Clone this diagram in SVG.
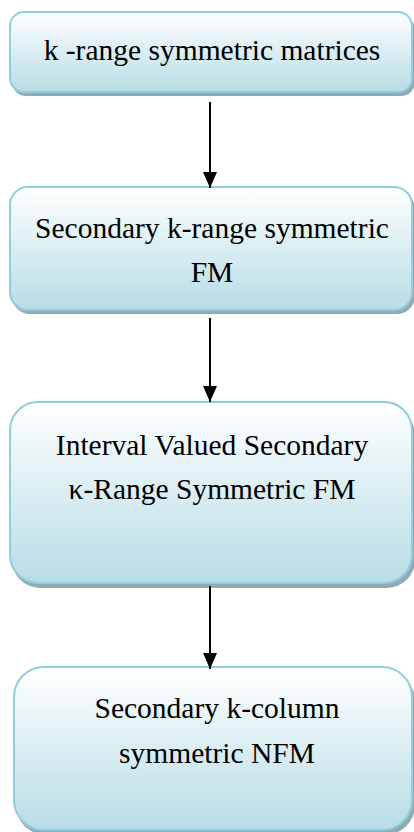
<svg xmlns="http://www.w3.org/2000/svg" width="414" height="832" viewBox="0 0 414 832">
  <defs>
    <linearGradient id="g" x1="0" y1="0" x2="0" y2="1">
      <stop offset="0" stop-color="#ffffff"/>
      <stop offset="0.6" stop-color="#d3eaf0"/>
      <stop offset="1" stop-color="#b8dce6"/>
    </linearGradient>
    <marker id="ah" markerWidth="16" markerHeight="14" refX="16" refY="7" orient="auto" markerUnits="userSpaceOnUse">
      <path d="M0,0 L16,7 L0,14 Z" fill="#000"/>
    </marker>
  </defs>
  <style>
    .box { fill: url(#g); stroke: #8ecedd; stroke-width: 2; }
    .sh { fill: #93aab4; }
    .t { font-family: "Liberation Serif", "Times New Roman", serif; font-size: 29.5px; fill: #000; text-anchor: middle; }
    .c { stroke: #000; stroke-width: 2; fill: none; marker-end: url(#ah); }
  </style>
  <rect width="414" height="832" fill="#fff"/>
  <g id="n1">
    <rect class="sh" x="12" y="16" width="403" height="80" rx="14"/>
    <rect class="box" x="10" y="12" width="402" height="80" rx="14"/>
    <text class="t" x="212" y="60">k -range symmetric matrices</text>
  </g>
  <g id="n2">
    <rect class="sh" x="12" y="191" width="403" height="123" rx="18"/>
    <rect class="box" x="10" y="187" width="402" height="123" rx="18"/>
    <text class="t" x="212" y="238">Secondary k-range symmetric</text>
    <text class="t" x="212" y="282">FM</text>
  </g>
  <g id="n3">
    <rect class="sh" x="12" y="407" width="403" height="181" rx="28"/>
    <rect class="box" x="10" y="402" width="402" height="181" rx="28"/>
    <text class="t" x="212" y="455">Interval Valued Secondary</text>
    <text class="t" x="212" y="499">κ-Range Symmetric FM</text>
  </g>
  <g id="n4">
    <rect class="sh" x="16" y="671" width="399" height="164" rx="30"/>
    <rect class="box" x="14" y="667" width="398" height="163" rx="30"/>
    <text class="t" x="217" y="718">Secondary k-column</text>
    <text class="t" x="217" y="763">symmetric NFM</text>
  </g>
  <g id="connectors">
    <line class="c" x1="210" y1="102" x2="210" y2="188"/>
    <line class="c" x1="210" y1="318" x2="210" y2="402"/>
    <line class="c" x1="210" y1="586" x2="210" y2="669"/>
  </g>
</svg>
